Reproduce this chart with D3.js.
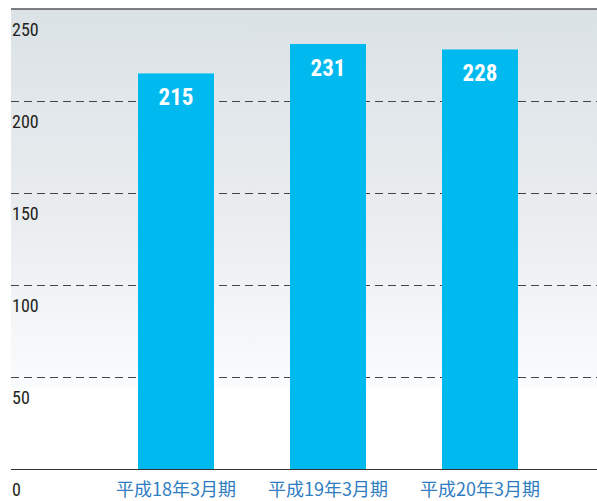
<!DOCTYPE html>
<html><head><meta charset="utf-8">
<script src="https://cdn.jsdelivr.net/npm/d3@7"></script>
<style>
html,body{margin:0;padding:0;background:#fff;}
svg{display:block;}
</style>
</head><body>
<svg id="chart" width="597" height="501"></svg>
<script>
const categories = ["平成18年3月期", "平成19年3月期", "平成20年3月期"];
const values = [215, 231, 228];
const tickValues = [0, 50, 100, 150, 200, 250];
const tickLabels = ["0", "50", "100", "150", "200", "250"];

const svg = d3.select("#chart");
const plotL = 11, plotR = 597, plotT = 9, plotB = 469;

const x = d3.scaleBand().domain(categories).range([100, 556]).paddingInner(0.5).paddingOuter(0.25);
const y = d3.scaleLinear().domain([0, 250]).range([plotB, plotT]);

const defs = svg.append("defs");
const grad = defs.append("linearGradient").attr("id", "bg").attr("x1", 0).attr("y1", 0).attr("x2", 0).attr("y2", 1);
grad.append("stop").attr("offset", "0%").attr("stop-color", "#dbe2e6");
grad.append("stop").attr("offset", "45%").attr("stop-color", "#e9edf0");
grad.append("stop").attr("offset", "82%").attr("stop-color", "#fafbfc");
grad.append("stop").attr("offset", "83%").attr("stop-color", "#ffffff");
grad.append("stop").attr("offset", "100%").attr("stop-color", "#ffffff");

svg.append("rect").attr("x", plotL).attr("y", plotT).attr("width", plotR - plotL).attr("height", plotB - plotT).attr("fill", "url(#bg)");

// dashed gridlines
svg.append("g").selectAll("line").data(tickValues.filter(d => d > 0 && d < 250)).join("line")
  .attr("x1", plotL).attr("x2", plotR)
  .attr("y1", d => y(d) + 0.5).attr("y2", d => y(d) + 0.5)
  .attr("stroke", "#444").attr("stroke-width", 1).attr("stroke-dasharray", "8,5");

// top line
svg.append("line").attr("x1", plotL).attr("x2", plotR).attr("y1", y(250)).attr("y2", y(250))
  .attr("stroke", "#555").attr("stroke-width", 1.5);

// bars
svg.append("g").selectAll("rect").data(values).join("rect")
  .attr("x", (d, i) => x(categories[i]))
  .attr("y", d => y(d))
  .attr("width", x.bandwidth())
  .attr("height", d => plotB - y(d))
  .attr("fill", "#00b9ef");

// baseline
svg.append("line").attr("x1", plotL).attr("x2", plotR).attr("y1", plotB + 0.5).attr("y2", plotB + 0.5)
  .attr("stroke", "#333").attr("stroke-width", 1.2);

// value labels
svg.append("g").selectAll("text").data(values).join("text")
  .attr("x", (d, i) => x(categories[i]) + x.bandwidth() / 2)
  .attr("y", d => y(d) + 32)
  .attr("text-anchor", "middle")
  .attr("fill", "#fff")
  .attr("font-family", "'Roboto Condensed', 'Liberation Sans Narrow', Roboto, sans-serif")
  .attr("font-weight", "bold")
  .attr("font-size", 23)
  .text(d => d);

// y tick labels (below each line)
svg.append("g").selectAll("text").data(tickValues).join("text")
  .attr("x", 12)
  .attr("y", d => y(d) + 27)
  .attr("fill", "#231f20")
  .attr("font-family", "'Roboto Condensed', 'Liberation Sans Narrow', Roboto, sans-serif")
  .attr("font-size", 18)
  .text((d, i) => tickLabels[i]);

// category labels
svg.append("g").selectAll("text").data(categories).join("text")
  .attr("x", d => x(d) + x.bandwidth() / 2)
  .attr("y", 496)
  .attr("text-anchor", "middle")
  .attr("fill", "#2f7dc0")
  .attr("font-family", "'Noto Sans CJK JP', sans-serif")
  .attr("font-size", 18)
  .text(d => d);
</script>
</body></html>
